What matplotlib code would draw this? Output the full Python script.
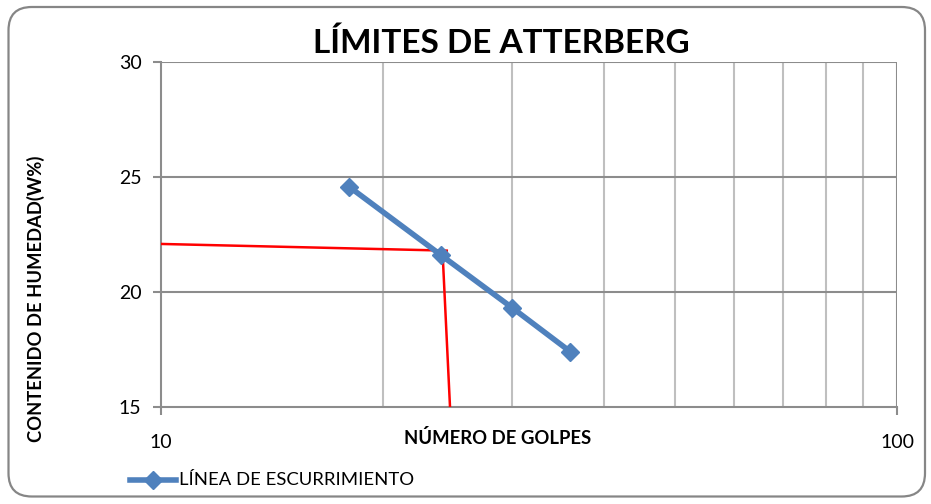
import matplotlib
matplotlib.use("Agg")
import matplotlib.pyplot as plt
from matplotlib.patches import FancyBboxPatch
from matplotlib.lines import Line2D

plt.rcParams['font.family'] = ['Lato', 'DejaVu Sans']

# Flow curve data: number of blows vs moisture content
golpes = [18, 24, 30, 36]
humedad = [24.58, 21.61, 19.32, 17.41]

# Reading of the liquid limit at 25 blows (hand-drawn guide lines)
guia_h_x = [10, 24.45]
guia_h_y = [22.09, 21.80]
guia_v_x = [24.12, 24.70]
guia_v_y = [21.85, 15.0]

x_ticks = [10, 100]
y_ticks = [15, 20, 25, 30]

fig = plt.figure(figsize=(9.31, 5.04), dpi=100)

# rounded chart frame
frame = FancyBboxPatch((8.5 / 931, 7.5 / 504), (925 - 8.5) / 931, (497 - 7.5) / 504,
                       boxstyle="round,pad=0,rounding_size=0.025",
                       transform=fig.transFigure, facecolor='none',
                       edgecolor='#868686', linewidth=1.6, mutation_aspect=931 / 504,
                       zorder=-1)
fig.patches.append(frame)

ax = fig.add_axes([161 / 931, 1 - 407.3 / 504, 736 / 931, 345.6 / 504])
ax.patch.set_alpha(0)
ax.set_xscale('log')
ax.set_xlim(10, 100)
ax.set_ylim(15, 30)

# gridlines: minor verticals light, horizontals and decades darker
for xv in range(20, 100, 10):
    ax.axvline(xv, color='#BFBFBF', lw=1.5, zorder=0)
ax.axvline(100, color='#8C8C8C', lw=1.5, zorder=0)
for yv in [20, 25, 30]:
    ax.axhline(yv, color='#8C8C8C', lw=1.5, zorder=0)

for s in ['top', 'right']:
    ax.spines[s].set_visible(False)
for s in ['left', 'bottom']:
    ax.spines[s].set_color('#8C8C8C')
    ax.spines[s].set_linewidth(1.5)

ax.set_xticks(x_ticks)
ax.set_xticklabels([str(v) for v in x_ticks])
ax.set_xticks([], minor=True)
ax.set_yticks(y_ticks)
ax.tick_params(axis='both', which='major', length=6, width=1.5, color='#8C8C8C',
               labelsize=14, labelcolor='black')
ax.tick_params(axis='x', pad=13)
ax.tick_params(axis='y', pad=8)

ax.plot(guia_h_x, guia_h_y, color='red', lw=1.8, zorder=3)
ax.plot(guia_v_x, guia_v_y, color='red', lw=1.8, zorder=3)

ax.plot(golpes, humedad, color='#4F81BD', lw=4, marker='D', markersize=9.5,
        markeredgecolor='#4F81BD', zorder=4, clip_on=False)

fig.text(501 / 931, 1 - 43 / 504, 'LÍMITES DE ATTERBERG', ha='center', va='center',
         fontsize=24, fontweight='bold')
fig.text(498 / 931, 1 - 438 / 504, 'NÚMERO DE GOLPES', ha='center', va='center',
         fontsize=13.3, fontweight='bold')
fig.text(36 / 931, 1 - 299 / 504, 'CONTENIDO DE HUMEDAD(W%)', ha='center', va='center',
         rotation=90, fontsize=13.2, fontweight='bold')

# legend
leg_line = Line2D([130 / 931, 176 / 931], [1 - 480 / 504, 1 - 480 / 504],
                  transform=fig.transFigure, color='#4F81BD', lw=4)
leg_mark = Line2D([153 / 931], [1 - 480 / 504], transform=fig.transFigure,
                  color='#4F81BD', marker='D', markersize=9.5, lw=0)
fig.lines.extend([leg_line, leg_mark])
fig.text(179 / 931, 1 - 480 / 504, 'LÍNEA DE ESCURRIMIENTO', ha='left', va='center',
         fontsize=13.3)

fig.savefig('out.png', dpi=100)
